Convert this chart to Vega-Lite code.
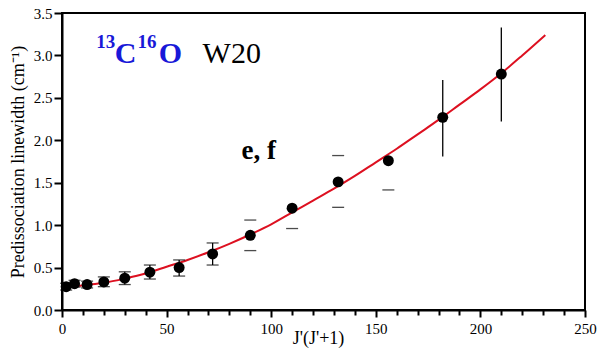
{
  "$schema": "https://vega.github.io/schema/vega-lite/v6.json",
  "width": 523,
  "height": 297,
  "autosize": {"type": "none"},
  "padding": {"left": 62, "top": 13, "right": 15, "bottom": 41},
  "background": "white",
  "config": {
    "view": {"stroke": "black", "strokeWidth": 2}
  },
  "datasets": {
    "curve": [
      {"x": 0, "y": 0.27}, {"x": 10, "y": 0.29}, {"x": 20, "y": 0.32}, {"x": 30, "y": 0.37},
      {"x": 40, "y": 0.43}, {"x": 50, "y": 0.51}, {"x": 60, "y": 0.59}, {"x": 70, "y": 0.68},
      {"x": 80, "y": 0.78}, {"x": 90, "y": 0.89}, {"x": 100, "y": 1.01}, {"x": 110, "y": 1.15},
      {"x": 120, "y": 1.29}, {"x": 130, "y": 1.43}, {"x": 140, "y": 1.58}, {"x": 150, "y": 1.74},
      {"x": 160, "y": 1.9}, {"x": 170, "y": 2.07}, {"x": 180, "y": 2.24}, {"x": 190, "y": 2.42},
      {"x": 200, "y": 2.6}, {"x": 210, "y": 2.79}, {"x": 220, "y": 3.0}, {"x": 231, "y": 3.24}
    ],
    "points": [
      {"x": 2, "y": 0.275}, {"x": 6, "y": 0.31}, {"x": 12, "y": 0.3}, {"x": 20, "y": 0.33},
      {"x": 30, "y": 0.375}, {"x": 42, "y": 0.445}, {"x": 56, "y": 0.5}, {"x": 72, "y": 0.66},
      {"x": 90, "y": 0.88}, {"x": 110, "y": 1.2}, {"x": 132, "y": 1.51}, {"x": 156, "y": 1.76},
      {"x": 182, "y": 2.27}, {"x": 210, "y": 2.78}
    ],
    "bars": [
      {"x": 2, "lo": 0.235, "hi": 0.315}, {"x": 6, "lo": 0.27, "hi": 0.35}, {"x": 12, "lo": 0.26, "hi": 0.34},
      {"x": 20, "lo": 0.275, "hi": 0.39}, {"x": 30, "lo": 0.3, "hi": 0.45}, {"x": 42, "lo": 0.365, "hi": 0.53},
      {"x": 56, "lo": 0.4, "hi": 0.59}, {"x": 72, "lo": 0.53, "hi": 0.79},
      {"x": 182, "lo": 1.81, "hi": 2.71}, {"x": 210, "lo": 2.22, "hi": 3.33}
    ],
    "caps": [
      {"x": 2, "y": 0.235}, {"x": 2, "y": 0.315}, {"x": 6, "y": 0.27}, {"x": 6, "y": 0.35},
      {"x": 12, "y": 0.26}, {"x": 12, "y": 0.34}, {"x": 20, "y": 0.275}, {"x": 20, "y": 0.39},
      {"x": 30, "y": 0.3}, {"x": 30, "y": 0.45}, {"x": 42, "y": 0.365}, {"x": 42, "y": 0.53},
      {"x": 56, "y": 0.4}, {"x": 56, "y": 0.59}, {"x": 72, "y": 0.53}, {"x": 72, "y": 0.79},
      {"x": 90, "y": 0.7}, {"x": 90, "y": 1.06}, {"x": 110, "y": 0.96},
      {"x": 132, "y": 1.21}, {"x": 132, "y": 1.82}, {"x": 156, "y": 1.415}
    ],
    "ann": [
      {"role": "sup", "label": "13", "x": 16.4, "y": 3.09},
      {"role": "big", "label": "C", "x": 25.2, "y": 2.913},
      {"role": "sup", "label": "16", "x": 36.1, "y": 3.09},
      {"role": "big", "label": "O", "x": 46.2, "y": 2.913},
      {"role": "name", "label": "W20", "x": 67.2, "y": 2.913},
      {"role": "ef", "label": "e, f", "x": 85.8, "y": 1.777}
    ]
  },
  "encoding": {
    "x": {
      "field": "x", "type": "quantitative",
      "scale": {"domain": [0, 250], "nice": false, "zero": false},
      "axis": {
        "title": "J'(J'+1)",
        "grid": false,
        "domainColor": "black",
        "domainWidth": 2,
        "tickColor": "black",
        "tickWidth": 2,
        "labelFont": "Liberation Serif",
        "labelFontSize": 15,
        "labelColor": "black",
        "titleFont": "Liberation Serif",
        "titleFontSize": 18,
        "titleFontWeight": "normal",
        "titleColor": "black",
        "values": [0,10,20,30,40,50,60,70,80,90,100,110,120,130,140,150,160,170,180,190,200,210,220,230,240,250],
        "labelExpr": "datum.value % 50 === 0 ? datum.label : ''",
        "labelOverlap": false,
        "labelFlush": false,
        "labelPadding": 4,
        "tickSize": {"condition": {"test": "datum.value % 50 === 0", "value": 7}, "value": 5},
        "titleX": 256,
        "titleY": 33,
        "titleBaseline": "alphabetic",
        "titleAnchor": "middle"
      }
    },
    "y": {
      "field": "y", "type": "quantitative",
      "scale": {"domain": [0, 3.5], "nice": false, "zero": false},
      "axis": {
        "title": "Predissociation linewidth (cm⁻¹)",
        "grid": false,
        "domainColor": "black",
        "domainWidth": 2,
        "tickColor": "black",
        "tickWidth": 2,
        "labelFont": "Liberation Serif",
        "labelFontSize": 15,
        "labelColor": "black",
        "titleFont": "Liberation Serif",
        "titleFontSize": 18,
        "titleFontWeight": "normal",
        "titleColor": "black",
        "values": [0, 0.5, 1, 1.5, 2, 2.5, 3, 3.5],
        "format": ".1f",
        "tickSize": 8,
        "labelPadding": 2,
        "titlePadding": 6
      }
    }
  },
  "layer": [
    {
      "data": {"name": "curve"},
      "mark": {"type": "line", "color": "#dd1020", "strokeWidth": 2, "interpolate": "monotone"}
    },
    {
      "data": {"name": "bars"},
      "mark": {"type": "rule", "color": "black", "strokeWidth": 1.3},
      "encoding": {"y": {"field": "lo", "type": "quantitative"}, "y2": {"field": "hi"}}
    },
    {
      "data": {"name": "caps"},
      "mark": {"type": "tick", "orient": "horizontal", "color": "black", "size": 12, "thickness": 1.3}
    },
    {
      "data": {"name": "points"},
      "mark": {"type": "circle", "color": "black", "opacity": 1, "size": 120}
    },
    {
      "data": {"name": "ann"},
      "transform": [{"filter": "datum.role === 'big'"}],
      "mark": {"type": "text", "align": "left", "baseline": "alphabetic", "font": "Liberation Serif", "fontWeight": "bold", "fontSize": 30, "color": "#1818d8"},
      "encoding": {"text": {"field": "label"}}
    },
    {
      "data": {"name": "ann"},
      "transform": [{"filter": "datum.role === 'sup'"}],
      "mark": {"type": "text", "align": "left", "baseline": "alphabetic", "font": "Liberation Serif", "fontWeight": "bold", "fontSize": 19, "color": "#1818d8"},
      "encoding": {"text": {"field": "label"}}
    },
    {
      "data": {"name": "ann"},
      "transform": [{"filter": "datum.role === 'name'"}],
      "mark": {"type": "text", "align": "left", "baseline": "alphabetic", "font": "Liberation Serif", "fontWeight": "normal", "fontSize": 30, "color": "black"},
      "encoding": {"text": {"field": "label"}}
    },
    {
      "data": {"name": "ann"},
      "transform": [{"filter": "datum.role === 'ef'"}],
      "mark": {"type": "text", "align": "left", "baseline": "alphabetic", "font": "Liberation Serif", "fontWeight": "bold", "fontSize": 27, "color": "black"},
      "encoding": {"text": {"field": "label"}}
    }
  ]
}
